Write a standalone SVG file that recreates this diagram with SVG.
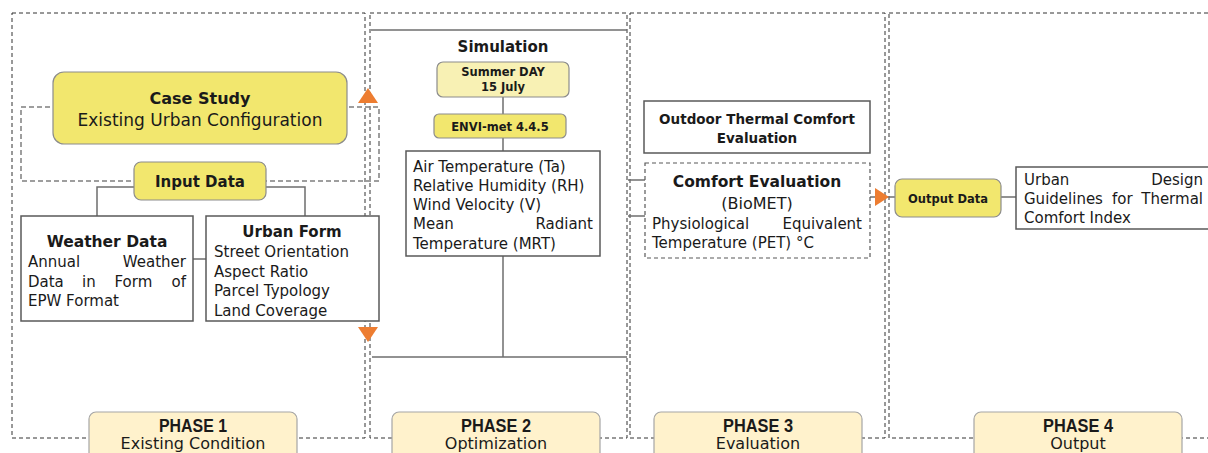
<svg xmlns="http://www.w3.org/2000/svg" width="1208" height="453" viewBox="0 0 1208 453">
<style>
.panel{fill:none;stroke:#333;stroke-width:1;stroke-dasharray:4 3}
.loop{fill:none;stroke:#7f7f7f;stroke-width:1.5;stroke-dasharray:5 3}
.conn{fill:none;stroke:#6e6e6e;stroke-width:1.5}
.box{fill:#fff;stroke:#595959;stroke-width:1.5}
.dbox{fill:#fff;stroke:#595959;stroke-width:1.2;stroke-dasharray:4 3}
.yel{fill:#F2E76E;stroke:#8c8c8c;stroke-width:1.2}
.lyel{fill:#F8F1B4;stroke:#8c8c8c;stroke-width:1.2}
.phase{fill:#FFF2CC;stroke:#a6a6a6;stroke-width:1.2}
.arr{fill:#ED7D31}
text{font-family:"DejaVu Sans",sans-serif;fill:#1a1a1a}
.b{font-weight:bold}
.t{font-size:15px}
.m{text-anchor:middle}
.e{text-anchor:end}
.ph{font-family:"Liberation Sans",sans-serif;font-weight:bold;font-size:18px}
.pl{font-size:16px}
</style>

<g id="panels">
<rect class="panel" x="12" y="13" width="353" height="425"/>
<rect class="panel" x="370" y="13" width="257" height="425"/>
<rect class="panel" x="630" y="13" width="255" height="425"/>
<rect class="panel" x="889" y="13" width="330" height="425"/>
</g>

<g id="connectors">
<rect class="loop" x="21" y="107" width="358" height="74"/>
<polyline class="conn" points="134,187 97,187 97,216"/>
<polyline class="conn" points="266,187 305,187 305,216"/>
<line class="conn" x1="193" y1="259" x2="206" y2="259"/>
<line class="conn" x1="371" y1="30" x2="627" y2="30"/>
<line class="conn" x1="503" y1="97" x2="503" y2="114"/>
<line class="conn" x1="503" y1="138" x2="503" y2="151"/>
<line class="conn" x1="503" y1="256" x2="503" y2="357"/>
<line class="conn" x1="372" y1="357" x2="627" y2="357"/>
<line class="conn" x1="628" y1="180" x2="645" y2="180"/>
<line class="conn" x1="628" y1="216" x2="645" y2="216"/>
<line class="conn" x1="870" y1="197" x2="895" y2="197"/>
<line class="conn" x1="1001" y1="197" x2="1016" y2="197"/>
<polygon class="arr" points="368,88 378,103 358,103"/>
<polygon class="arr" points="358,327 378,327 368,342"/>
<polygon class="arr" points="875,188 889,197 875,206"/>
</g>

<g id="case-study">
<rect class="yel" x="53" y="72" width="294" height="72" rx="11"/>
<text class="b m" x="200" y="104" font-size="16">Case Study</text>
<text class="m" x="200" y="126" font-size="17">Existing Urban Configuration</text>
</g>

<g id="input-data">
<rect class="yel" x="134" y="162" width="132" height="38" rx="7"/>
<text class="b m" x="200" y="187" font-size="15">Input Data</text>
</g>

<g id="weather-data">
<rect class="box" x="21" y="216" width="172" height="105"/>
<text class="b m" x="107" y="247" font-size="15.5">Weather Data</text>
<text class="t" x="28" y="267">Annual</text>
<text class="t e" x="186" y="267">Weather</text>
<text class="t" y="287"><tspan x="28">Data</tspan><tspan x="82">in</tspan><tspan x="114.5">Form</tspan></text>
<text class="t e" x="186" y="287">of</text>
<text class="t" x="28" y="306">EPW Format</text>
</g>

<g id="urban-form">
<rect class="box" x="206" y="216" width="173" height="105"/>
<text class="b m" x="292" y="237" font-size="15">Urban Form</text>
<text class="t" x="214" y="257">Street Orientation</text>
<text class="t" x="214" y="276.5">Aspect Ratio</text>
<text class="t" x="214" y="296">Parcel Typology</text>
<text class="t" x="214" y="315.5">Land Coverage</text>
</g>

<g id="simulation">
<text class="b m" x="503" y="52" font-size="15">Simulation</text>
</g>

<g id="summer-day">
<rect class="lyel" x="437" y="62" width="132" height="35" rx="6"/>
<text class="b m" x="503" y="76" font-size="11.5">Summer DAY</text>
<text class="b m" x="503" y="91" font-size="11.5">15 July</text>
</g>

<g id="envi-met">
<rect class="yel" x="434" y="114" width="132" height="24" rx="5"/>
<text class="b m" x="500" y="131" font-size="11.5">ENVI-met 4.4.5</text>
</g>

<g id="parameters">
<rect class="box" x="406" y="151" width="194" height="105"/>
<text class="t" x="413" y="172">Air Temperature (Ta)</text>
<text class="t" x="413" y="191">Relative Humidity (RH)</text>
<text class="t" x="413" y="210">Wind Velocity (V)</text>
<text class="t" x="413" y="229">Mean</text>
<text class="t e" x="593" y="229">Radiant</text>
<text class="t" x="413" y="249">Temperature (MRT)</text>
</g>

<g id="otc-evaluation">
<rect class="box" x="644" y="101" width="226" height="52"/>
<text class="b m" x="757" y="124" font-size="13.5">Outdoor Thermal Comfort</text>
<text class="b m" x="757" y="143" font-size="13.5">Evaluation</text>
</g>

<g id="comfort-evaluation">
<rect class="dbox" x="645" y="163" width="225" height="95"/>
<text class="b m" x="757" y="187" font-size="15.5">Comfort Evaluation</text>
<text class="m" x="757" y="209" font-size="16">(BioMET)</text>
<text class="t" x="652" y="229">Physiological</text>
<text class="t e" x="862" y="229">Equivalent</text>
<text class="t" x="652" y="248">Temperature (PET) °C</text>
</g>

<g id="output-data">
<rect class="yel" x="895" y="179" width="106" height="38" rx="7"/>
<text class="b m" x="948" y="203" font-size="11.5">Output Data</text>
</g>

<g id="guidelines">
<rect class="box" x="1016" y="167" width="200" height="62"/>
<text class="t" x="1024" y="185">Urban</text>
<text class="t e" x="1203" y="185">Design</text>
<text class="t" y="204"><tspan x="1024">Guidelines</tspan><tspan x="1112">for</tspan></text>
<text class="t e" x="1203" y="204">Thermal</text>
<text class="t" x="1024" y="223">Comfort Index</text>
</g>

<g id="phase1">
<rect class="phase" x="89" y="412" width="208" height="50" rx="7"/>
<text class="ph m" x="193" y="432" textLength="68" lengthAdjust="spacingAndGlyphs">PHASE 1</text>
<text class="m pl" x="193" y="449">Existing Condition</text>
</g>
<g id="phase2">
<rect class="phase" x="392" y="412" width="208" height="50" rx="7"/>
<text class="ph m" x="496" y="432" textLength="70" lengthAdjust="spacingAndGlyphs">PHASE 2</text>
<text class="m pl" x="496" y="449">Optimization</text>
</g>
<g id="phase3">
<rect class="phase" x="654" y="412" width="208" height="50" rx="7"/>
<text class="ph m" x="758" y="432" textLength="70" lengthAdjust="spacingAndGlyphs">PHASE 3</text>
<text class="m pl" x="758" y="449">Evaluation</text>
</g>
<g id="phase4">
<rect class="phase" x="974" y="412" width="208" height="50" rx="7"/>
<text class="ph m" x="1078" y="432" textLength="70" lengthAdjust="spacingAndGlyphs">PHASE 4</text>
<text class="m pl" x="1078" y="449">Output</text>
</g>
</svg>
